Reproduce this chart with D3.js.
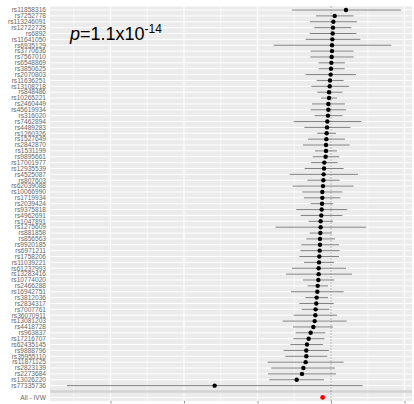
<!DOCTYPE html>
<html>
<head>
<meta charset="utf-8">
<script src="https://cdnjs.cloudflare.com/ajax/libs/d3/7.8.5/d3.min.js"></script>
<style>
  html, body { margin: 0; padding: 0; background: #fff; overflow: hidden; }
</style>
</head>
<body>
<div id="vis"></div>
<script>
var width = 414;
var height = 404;

// SNPs, top to bottom
var snps = [
  'rs11858316', 'rs7252778', 'rs113246091', 'rs12722725', 'rs6892', 'rs11641050',
  'rs6935129', 'rs3770636', 'rs7567010', 'rs6548869', 'rs3850625', 'rs2070803',
  'rs11636251', 'rs13108218', 'rs848486', 'rs10265221', 'rs2460449', 'rs45619934',
  'rs316020', 'rs7462894', 'rs4489283', 'rs1260326', 'rs1527649', 'rs2842870',
  'rs1531199', 'rs9895661', 'rs17001977', 'rs12935539', 'rs4525087', 'rs807603',
  'rs62039088', 'rs10066990', 'rs1719934', 'rs2039424', 'rs9375818', 'rs4962691',
  'rs1047891', 'rs1275609', 'rs881858', 'rs856563', 'rs9920185', 'rs6971211',
  'rs1758206', 'rs11039221', 'rs61237993', 'rs13283416', 'rs10774020', 'rs2466288',
  'rs16942751', 'rs3812036', 'rs2834317', 'rs7007761', 'rs36070911', 'rs13081203',
  'rs4418728', 'rs963837', 'rs17216707', 'rs62435145', 'rs9888796', 'rs35955110',
  'rs11871125', 'rs2823139', 'rs2273684', 'rs13026220', 'rs77335736'
];

// effect estimates and 95% CI
var beta = [
  0.204, 0.050, 0.032, 0.027, 0.023, 0.018, 0.014, 0.014, 0.009, 0.005, 0.000, -0.005,
  -0.014, -0.018, -0.027, -0.027, -0.036, -0.036, -0.041, -0.050, -0.054, -0.059, -0.063, -0.068,
  -0.068, -0.073, -0.091, -0.095, -0.100, -0.104, -0.109, -0.118, -0.118, -0.122, -0.127, -0.132,
  -0.141, -0.141, -0.145, -0.150, -0.150, -0.154, -0.159, -0.163, -0.168, -0.168, -0.172, -0.181,
  -0.186, -0.195, -0.200, -0.209, -0.213, -0.222, -0.240, -0.277, -0.304, -0.327, -0.336, -0.336,
  -0.345, -0.376, -0.395, -0.467, -1.583
];
var lower = [
  -0.531, -0.204, -0.286, -0.227, -0.290, -0.345, -0.780, -0.277, -0.281, -0.168, -0.168, -0.345,
  -0.195, -0.268, -0.186, -0.136, -0.259, -0.277, -0.222, -0.508, -0.363, -0.186, -0.313, -0.381,
  -0.218, -0.249, -0.272, -0.358, -0.562, -0.322, -0.522, -0.390, -0.367, -0.277, -0.472, -0.413,
  -0.304, -0.753, -0.290, -0.336, -0.404, -0.417, -0.431, -0.367, -0.531, -0.612, -0.381, -0.317,
  -0.544, -0.349, -0.431, -0.399, -0.508, -0.658, -0.517, -0.481, -0.512, -0.553, -0.644, -0.621,
  -0.862, -0.812, -0.857, -0.839, -3.592
];
var upper = [
  0.952, 0.308, 0.354, 0.277, 0.345, 0.399, 0.821, 0.308, 0.308, 0.190, 0.186, 0.340,
  0.172, 0.245, 0.154, 0.082, 0.190, 0.204, 0.154, 0.413, 0.263, 0.068, 0.190, 0.254,
  0.082, 0.113, 0.091, 0.172, 0.367, 0.118, 0.308, 0.154, 0.127, 0.027, 0.222, 0.154,
  0.027, 0.476, 0.009, 0.054, 0.109, 0.118, 0.109, 0.041, 0.204, 0.286, 0.045, -0.041,
  0.172, -0.041, 0.036, -0.023, 0.082, 0.213, 0.027, -0.077, -0.091, -0.109, -0.027, -0.050,
  0.172, 0.054, 0.068, -0.095, 0.431
];

// pooled IVW estimate
var ivwLabel = 'All - IVW';
var ivwBeta = -0.113;
var ivwLower = -0.140;
var ivwUpper = -0.086;

var xTicks = [-3, -2, -1, 0, 1];

var margin = { top: 6.5, right: 2, bottom: 3.1, left: 50 };

var rows = snps.concat(['', ivwLabel]);

var svg = d3.select('#vis')
  .append('svg')
  .attr('width', width)
  .attr('height', height);

var x = d3.scaleLinear()
  .domain([-3.823, 1.102])
  .range([margin.left, width - margin.right]);

var y = d3.scalePoint()
  .domain(rows)
  .range([margin.top, height - margin.bottom])
  .padding(0.6);

var panelTop = margin.top;
var panelBottom = height - margin.bottom;

// panel background
svg.append('rect')
  .attr('x', margin.left)
  .attr('y', panelTop)
  .attr('width', width - margin.right - margin.left)
  .attr('height', panelBottom - panelTop)
  .attr('fill', '#ebebeb');

// minor vertical grid
var minor = xTicks.map(function (d) { return d - 0.5; }).concat([xTicks[xTicks.length - 1] + 0.5]);
svg.append('g')
  .selectAll('line')
  .data(minor.filter(function (d) { return x(d) >= margin.left && x(d) <= width - margin.right; }))
  .enter()
  .append('line')
  .attr('x1', function (d) { return x(d); })
  .attr('x2', function (d) { return x(d); })
  .attr('y1', panelTop)
  .attr('y2', panelBottom)
  .attr('stroke', '#fff')
  .attr('stroke-width', 0.6);

// horizontal grid (one per row)
svg.append('g')
  .selectAll('line')
  .data(rows)
  .enter()
  .append('line')
  .attr('x1', margin.left)
  .attr('x2', width - margin.right)
  .attr('y1', function (d) { return y(d); })
  .attr('y2', function (d) { return y(d); })
  .attr('stroke', '#fff')
  .attr('stroke-width', 1);

// major vertical grid
svg.append('g')
  .selectAll('line')
  .data(xTicks)
  .enter()
  .append('line')
  .attr('x1', function (d) { return x(d); })
  .attr('x2', function (d) { return x(d); })
  .attr('y1', panelTop)
  .attr('y2', panelBottom)
  .attr('stroke', '#fff')
  .attr('stroke-width', 1.2);

// separator line at blank row
svg.append('line')
  .attr('x1', margin.left)
  .attr('x2', width - margin.right)
  .attr('y1', y(''))
  .attr('y2', y(''))
  .attr('stroke', '#d3d3d3')
  .attr('stroke-width', 2.6);

// zero line
svg.append('line')
  .attr('x1', x(0))
  .attr('x2', x(0))
  .attr('y1', panelTop)
  .attr('y2', panelBottom)
  .attr('stroke', '#222')
  .attr('stroke-width', 0.7)
  .attr('stroke-dasharray', '1,2');

// error bars
var snpData = snps.map(function (s, i) {
  return { snp: s, b: beta[i], lo: lower[i], hi: upper[i] };
});

svg.append('g')
  .selectAll('line')
  .data(snpData)
  .enter()
  .append('line')
  .attr('x1', function (d) { return Math.max(x(d.lo), margin.left); })
  .attr('x2', function (d) { return x(d.hi); })
  .attr('y1', function (d) { return y(d.snp); })
  .attr('y2', function (d) { return y(d.snp); })
  .attr('stroke', '#808080')
  .attr('stroke-width', 1);

svg.append('line')
  .attr('x1', x(ivwLower))
  .attr('x2', x(ivwUpper))
  .attr('y1', y(ivwLabel))
  .attr('y2', y(ivwLabel))
  .attr('stroke', '#ff0000')
  .attr('stroke-width', 1);

svg.append('g')
  .selectAll('circle')
  .data(snpData)
  .enter()
  .append('circle')
  .attr('cx', function (d) { return x(d.b); })
  .attr('cy', function (d) { return y(d.snp); })
  .attr('r', 2.2)
  .attr('fill', '#000');

svg.append('circle')
  .attr('cx', x(ivwBeta))
  .attr('cy', y(ivwLabel))
  .attr('r', 2.4)
  .attr('fill', '#ff0000');

// y labels
svg.append('g')
  .selectAll('text')
  .data(rows)
  .enter()
  .append('text')
  .attr('x', margin.left - 4)
  .attr('y', function (d) { return y(d); })
  .attr('dy', '0.35em')
  .attr('text-anchor', 'end')
  .style('font-family', '"Liberation Sans", Arial, sans-serif')
  .style('font-size', '6.6px')
  .attr('fill', '#666')
  .text(function (d) { return d; });

// x axis ticks (labels fall outside the frame)
var xAxis = d3.axisBottom(x)
  .tickValues(xTicks)
  .tickSize(2.5)
  .tickFormat('');

svg.append('g')
  .attr('transform', 'translate(0,' + panelBottom + ')')
  .call(xAxis)
  .call(function (g) { g.select('.domain').remove(); })
  .call(function (g) { g.selectAll('.tick line').attr('stroke', '#444').attr('stroke-width', 0.6); });

// p value annotation
var pText = svg.append('text')
  .attr('x', 70)
  .attr('y', 40)
  .style('font-family', '"Liberation Sans", Arial, sans-serif')
  .style('font-size', '18px')
  .attr('fill', '#000');
pText.append('tspan').style('font-style', 'italic').text('p');
pText.append('tspan').text('=1.1x10');
pText.append('tspan').attr('dy', -7).style('font-size', '12px').text('-14');
</script>
</body>
</html>
